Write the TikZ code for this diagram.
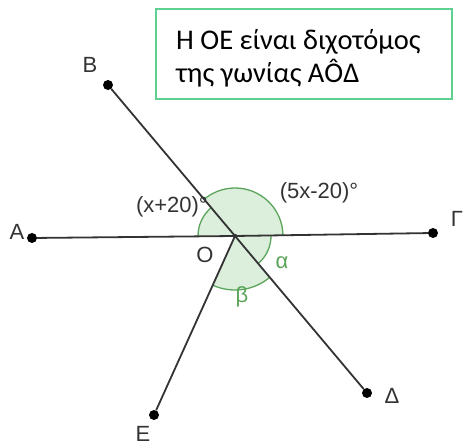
\documentclass[tikz,border=0pt]{standalone}
\usepackage{fontspec}
\setmainfont{Liberation Sans}
\newfontfamily\boxfont{Carlito}
\begin{document}
\begin{tikzpicture}[x=1pt,y=1pt,
  ray/.style={draw=linegray, line width=1.8pt},
  dot/.style={circle, fill=black, inner sep=0pt, minimum size=10pt},
  sector/.style={fill=secfill},
  arcline/.style={draw=arcgreen, line width=1.3pt},
  ptlabel/.style={text=labgray, font=\fontsize{22}{24}\selectfont, inner sep=0pt},
  anglabel/.style={text=labgray, font=\fontsize{22}{24}\selectfont, inner sep=0pt},
  greeklabel/.style={text=arcgreen, font=\fontsize{22}{24}\selectfont, inner sep=0pt},
  notebox/.style={draw=boxgreen, line width=1.2pt, minimum width=296pt, minimum height=90pt, inner sep=0pt}
]
\definecolor{linegray}{HTML}{333333}
\definecolor{labgray}{HTML}{333333}
\definecolor{arcgreen}{HTML}{5AA55A}
\definecolor{secfill}{HTML}{DCEEDC}
\definecolor{boxgreen}{HTML}{5FD08F}
\useasboundingbox (0,0) rectangle (463,447);

% points
\coordinate (O) at (235,211);
% sectors
\fill[sector] (O) -- ++(0.9:48pt) arc[start angle=0.9, end angle=130.1, radius=48pt] -- cycle;
\fill[sector] (O) -- ++(130.1:37pt) arc[start angle=130.1, end angle=180.6, radius=37pt] -- cycle;
\fill[sector] (O) -- ++(-49.9:36pt) arc[start angle=-49.9, end angle=0.9, radius=36pt] -- cycle;
\fill[sector] (O) -- ++(-114.3:54pt) arc[start angle=-114.3, end angle=-49.9, radius=54pt] -- cycle;
\draw[arcline] (O) ++(0.9:48pt) arc[start angle=0.9, end angle=130.1, radius=48pt];
\draw[arcline] (O) ++(130.1:37pt) arc[start angle=130.1, end angle=180.6, radius=37pt];
\draw[arcline] (O) ++(-49.9:36pt) arc[start angle=-49.9, end angle=0.9, radius=36pt];
\draw[arcline] (O) ++(-114.3:54pt) arc[start angle=-114.3, end angle=-49.9, radius=54pt];

\node[dot] (pA) at (32,209) {};
\node[dot] (pB) at (108,362) {};
\node[dot] (pG) at (433,214) {};
\node[dot] (pD) at (367,54) {};
\node[dot] (pE) at (154,32) {};

\draw[ray] (O) -- (pA);
\draw[ray] (O) -- (pB);
\draw[ray] (O) -- (pG);
\draw[ray] (O) -- (pD);
\draw[ray] (O) -- (pE);
\fill[linegray] (O) circle (2.2pt);

% labels
\node[ptlabel] (lA) at (17,215) {A};
\node[ptlabel] (lB) at (90,382) {B};
\node[ptlabel] (lG) at (457,228) {Γ};
\node[ptlabel] (lD) at (392,51) {Δ};
\node[ptlabel] (lE) at (143,13) {E};
\node[anglabel] (lO) at (205,192) {O};
\node[anglabel, anchor=east] (lx) at (208,240) {(x+20)°};
\node[anglabel] (l5x) at (319,254) {(5x-20)°};
\node[greeklabel] (la) at (282,184) {α};
\node[greeklabel] (lb) at (242,150) {β};

% note box
\node[notebox] (note) at (304,393) {};
\node[anchor=base west, inner sep=0pt, font=\boxfont\fontsize{28.5}{33}\selectfont] (n1) at (176,397) {Η ΟΕ είναι διχοτόμος};
\node[anchor=base west, inner sep=0pt, font=\boxfont\fontsize{28.5}{33}\selectfont] (n2) at (176,364) {της γωνίας ΑÔΔ};
\end{tikzpicture}
\end{document}
